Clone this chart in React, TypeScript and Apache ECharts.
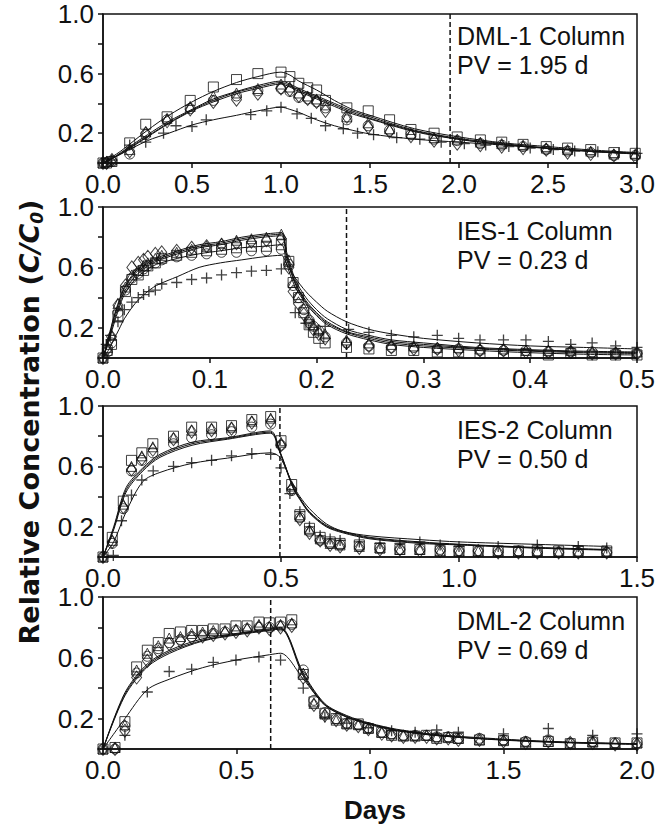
import React, { useEffect, useRef } from "react";
import * as echarts from "echarts";

// ---------- Panel 1: DML-1 Column ----------
const P1_X = [0, 0.02, 0.05, 0.15, 0.24, 0.36, 0.49, 0.62, 0.75, 0.87, 1.0, 1.05, 1.1, 1.15, 1.2, 1.25, 1.37, 1.49, 1.61, 1.73, 1.86, 1.99, 2.12, 2.24, 2.36, 2.49, 2.61, 2.74, 2.87, 2.99];
const P1_SQUARE = [0, 0, 0.01, 0.135, 0.26, 0.31, 0.42, 0.51, 0.56, 0.6, 0.61, 0.58, 0.535, 0.505, 0.49, 0.42, 0.37, 0.35, 0.29, 0.225, 0.2, 0.175, 0.155, 0.14, 0.125, 0.11, 0.1, 0.09, 0.07, 0.065];
const P1_CIRCLE = [0, 0, 0.01, 0.06, 0.19, 0.29, 0.365, 0.42, 0.45, 0.485, 0.5, 0.48, 0.44, 0.43, 0.41, 0.37, 0.29, 0.25, 0.22, 0.19, 0.16, 0.15, 0.13, 0.12, 0.11, 0.09, 0.08, 0.07, 0.05, 0.05];
const P1_DIAMOND = [0, 0, 0.02, 0.08, 0.2, 0.28, 0.36, 0.41, 0.425, 0.465, 0.5, 0.49, 0.45, 0.43, 0.41, 0.35, 0.31, 0.24, 0.21, 0.18, 0.15, 0.13, 0.12, 0.11, 0.1, 0.09, 0.07, 0.06, 0.05, 0.04];
const P1_TRIANGLE = [0, 0.01, 0.02, 0.09, 0.21, 0.3, 0.38, 0.45, 0.47, 0.5, 0.53, 0.51, 0.47, 0.45, 0.43, 0.39, 0.31, 0.27, 0.23, 0.2, 0.17, 0.16, 0.14, 0.13, 0.12, 0.1, 0.09, 0.08, 0.06, 0.06];
const P1_PLUS = [[0, 0], [0.05, 0.02], [0.15, 0.12], [0.24, 0.14], [0.34, 0.2], [0.41, 0.25], [0.5, 0.245], [0.58, 0.29], [0.83, 0.325], [0.92, 0.35], [1.0, 0.375], [1.09, 0.33], [1.17, 0.3], [1.25, 0.25], [1.35, 0.23], [1.43, 0.2], [1.52, 0.19], [1.65, 0.17], [1.78, 0.16], [1.9, 0.14], [2.03, 0.13], [2.15, 0.12], [2.28, 0.11], [2.4, 0.1], [2.53, 0.09], [2.65, 0.08], [2.78, 0.075], [2.9, 0.07], [3.0, 0.065]];
const P1_FIT_X = [0, 0.05, 0.1, 0.25, 0.37, 0.5, 0.62, 0.75, 0.87, 1.0, 1.05, 1.1, 1.2, 1.3, 1.4, 1.5, 1.75, 2.0, 2.25, 2.5, 2.75, 3.0];
const P1_FIT_A = [0, 0.04, 0.08, 0.22, 0.32, 0.41, 0.48, 0.54, 0.58, 0.61, 0.59, 0.55, 0.49, 0.42, 0.36, 0.32, 0.23, 0.175, 0.135, 0.11, 0.087, 0.07];
const P1_FIT_B = [0, 0.03, 0.07, 0.19, 0.28, 0.36, 0.43, 0.48, 0.52, 0.55, 0.53, 0.5, 0.45, 0.4, 0.35, 0.31, 0.22, 0.165, 0.13, 0.1, 0.08, 0.065];
const P1_FIT_C = [0, 0.03, 0.065, 0.18, 0.27, 0.355, 0.42, 0.475, 0.51, 0.54, 0.52, 0.49, 0.44, 0.39, 0.34, 0.3, 0.215, 0.16, 0.125, 0.1, 0.078, 0.062];
const P1_FIT_D = [0, 0.03, 0.06, 0.175, 0.265, 0.35, 0.41, 0.465, 0.5, 0.53, 0.51, 0.48, 0.43, 0.38, 0.33, 0.295, 0.21, 0.158, 0.122, 0.097, 0.076, 0.06];
const P1_FIT_P = [0, 0.03, 0.06, 0.15, 0.2, 0.255, 0.29, 0.32, 0.35, 0.375, 0.36, 0.34, 0.29, 0.25, 0.22, 0.195, 0.16, 0.14, 0.12, 0.1, 0.08, 0.065];
const P1_PV = 1.95;

// ---------- Panel 2: IES-1 Column ----------
const P2_X = [0, 0.004, 0.008, 0.014, 0.021, 0.027, 0.033, 0.038, 0.042, 0.049, 0.055, 0.069, 0.083, 0.097, 0.111, 0.125, 0.139, 0.153, 0.167, 0.174, 0.178, 0.183, 0.188, 0.193, 0.197, 0.202, 0.208, 0.228, 0.249, 0.27, 0.291, 0.313, 0.333, 0.353, 0.375, 0.396, 0.417, 0.438, 0.458, 0.48, 0.5];
const P2_SQUARE = [0, 0.05, 0.09, 0.28, 0.44, 0.52, 0.55, 0.58, 0.61, 0.63, 0.66, 0.68, 0.7, 0.71, 0.72, 0.73, 0.74, 0.74, 0.75, 0.64, 0.5, 0.4, 0.3, 0.22, 0.17, 0.13, 0.1, 0.07, 0.06, 0.05, 0.05, 0.04, 0.04, 0.03, 0.03, 0.03, 0.02, 0.03, 0.02, 0.02, 0.02];
const P2_CIRCLE = [0, 0.04, 0.1, 0.3, 0.45, 0.53, 0.56, 0.59, 0.61, 0.63, 0.65, 0.67, 0.68, 0.69, 0.7, 0.7, 0.71, 0.71, 0.72, 0.62, 0.48, 0.4, 0.32, 0.25, 0.21, 0.18, 0.14, 0.1, 0.08, 0.07, 0.07, 0.06, 0.06, 0.05, 0.05, 0.05, 0.04, 0.04, 0.04, 0.03, 0.03];
const P2_DIAMOND = [0, 0.06, 0.14, 0.35, 0.48, 0.6, 0.63, 0.65, 0.67, 0.69, 0.7, 0.71, 0.73, 0.74, 0.75, 0.76, 0.77, 0.78, 0.79, 0.6, 0.44, 0.36, 0.29, 0.23, 0.19, 0.16, 0.13, 0.1, 0.08, 0.07, 0.06, 0.06, 0.05, 0.05, 0.05, 0.04, 0.04, 0.04, 0.03, 0.03, 0.03];
const P2_TRIANGLE = [0, 0.07, 0.15, 0.36, 0.47, 0.55, 0.58, 0.61, 0.63, 0.66, 0.68, 0.7, 0.72, 0.74, 0.76, 0.78, 0.79, 0.8, 0.82, 0.65, 0.5, 0.42, 0.33, 0.27, 0.22, 0.19, 0.16, 0.12, 0.1, 0.09, 0.08, 0.07, 0.07, 0.06, 0.06, 0.05, 0.05, 0.05, 0.04, 0.04, 0.04];
const P2_PLUS = [[0, 0], [0.003, 0.09], [0.007, 0.15], [0.014, 0.24], [0.02, 0.32], [0.027, 0.37], [0.033, 0.4], [0.038, 0.42], [0.043, 0.44], [0.049, 0.45], [0.055, 0.49], [0.069, 0.5], [0.083, 0.52], [0.097, 0.53], [0.111, 0.55], [0.125, 0.565], [0.139, 0.575], [0.153, 0.58], [0.167, 0.59], [0.18, 0.3], [0.19, 0.23], [0.208, 0.21], [0.23, 0.19], [0.249, 0.17], [0.27, 0.15], [0.291, 0.14], [0.313, 0.15], [0.333, 0.13], [0.353, 0.12], [0.375, 0.12], [0.396, 0.12], [0.417, 0.11], [0.438, 0.09], [0.458, 0.1], [0.48, 0.08], [0.5, 0.07]];
const P2_FIT_X = [0, 0.005, 0.01, 0.015, 0.02, 0.03, 0.04, 0.05, 0.07, 0.09, 0.11, 0.13, 0.15, 0.167, 0.172, 0.18, 0.19, 0.2, 0.21, 0.228, 0.249, 0.27, 0.3, 0.35, 0.4, 0.45, 0.5];
const P2_FIT_A = [0, 0.13, 0.27, 0.38, 0.47, 0.57, 0.62, 0.66, 0.71, 0.75, 0.77, 0.8, 0.82, 0.83, 0.7, 0.52, 0.4, 0.32, 0.26, 0.19, 0.15, 0.12, 0.1, 0.07, 0.055, 0.045, 0.04];
const P2_FIT_B = [0, 0.12, 0.26, 0.37, 0.46, 0.56, 0.61, 0.65, 0.7, 0.74, 0.76, 0.79, 0.81, 0.82, 0.68, 0.5, 0.38, 0.3, 0.24, 0.175, 0.14, 0.11, 0.09, 0.065, 0.05, 0.04, 0.035];
const P2_FIT_C = [0, 0.11, 0.24, 0.35, 0.44, 0.54, 0.6, 0.64, 0.69, 0.73, 0.75, 0.78, 0.8, 0.81, 0.66, 0.49, 0.37, 0.29, 0.23, 0.17, 0.13, 0.1, 0.08, 0.06, 0.045, 0.035, 0.03];
const P2_FIT_D = [0, 0.1, 0.22, 0.33, 0.42, 0.52, 0.58, 0.62, 0.66, 0.69, 0.71, 0.73, 0.74, 0.75, 0.62, 0.47, 0.36, 0.28, 0.22, 0.16, 0.12, 0.09, 0.07, 0.05, 0.035, 0.025, 0.02];
const P2_FIT_P = [0, 0.05, 0.12, 0.19, 0.26, 0.36, 0.43, 0.48, 0.54, 0.6, 0.63, 0.65, 0.67, 0.68, 0.62, 0.53, 0.44, 0.37, 0.31, 0.24, 0.19, 0.16, 0.13, 0.1, 0.08, 0.07, 0.06];
const P2_PV = 0.228;

// ---------- Panel 3: IES-2 Column ----------
const P3_X = [0, 0.026, 0.057, 0.08, 0.109, 0.14, 0.198, 0.249, 0.305, 0.361, 0.418, 0.471, 0.5, 0.53, 0.553, 0.58, 0.61, 0.638, 0.666, 0.72, 0.778, 0.834, 0.89, 0.947, 1.0, 1.054, 1.11, 1.167, 1.22, 1.28, 1.335, 1.415];
const P3_SQUARE = [0, 0.13, 0.37, 0.64, 0.69, 0.75, 0.8, 0.86, 0.86, 0.87, 0.91, 0.93, 0.77, 0.48, 0.28, 0.19, 0.13, 0.1, 0.09, 0.08, 0.06, 0.05, 0.05, 0.04, 0.04, 0.04, 0.04, 0.04, 0.04, 0.04, 0.04, 0.04];
const P3_CIRCLE = [0, 0.09, 0.32, 0.57, 0.64, 0.69, 0.75, 0.79, 0.81, 0.83, 0.86, 0.88, 0.74, 0.44, 0.26, 0.17, 0.11, 0.09, 0.08, 0.07, 0.06, 0.05, 0.05, 0.05, 0.04, 0.04, 0.04, 0.04, 0.03, 0.03, 0.03, 0.03];
const P3_DIAMOND = [0, 0.1, 0.33, 0.58, 0.65, 0.71, 0.78, 0.83, 0.84, 0.85, 0.89, 0.9, 0.74, 0.45, 0.25, 0.16, 0.11, 0.08, 0.07, 0.06, 0.05, 0.05, 0.04, 0.04, 0.04, 0.04, 0.03, 0.03, 0.03, 0.03, 0.03, 0.03];
const P3_TRIANGLE = [0, 0.11, 0.35, 0.6, 0.67, 0.73, 0.79, 0.84, 0.85, 0.86, 0.9, 0.92, 0.76, 0.47, 0.27, 0.18, 0.12, 0.09, 0.08, 0.07, 0.06, 0.05, 0.05, 0.04, 0.04, 0.04, 0.04, 0.04, 0.04, 0.03, 0.03, 0.03];
const P3_PLUS = [[0, 0], [0.029, 0.01], [0.052, 0.24], [0.08, 0.41], [0.109, 0.51], [0.141, 0.57], [0.198, 0.6], [0.249, 0.625], [0.305, 0.64], [0.361, 0.67], [0.418, 0.685], [0.471, 0.68], [0.5, 0.59], [0.525, 0.42], [0.553, 0.3], [0.58, 0.2], [0.61, 0.14], [0.638, 0.12], [0.666, 0.11], [0.72, 0.1], [0.778, 0.09], [0.834, 0.09], [0.89, 0.1], [0.947, 0.08], [1.0, 0.07], [1.11, 0.07], [1.22, 0.08], [1.335, 0.07], [1.415, 0.06]];
const P3_FIT_X = [0, 0.03, 0.065, 0.112, 0.16, 0.25, 0.35, 0.47, 0.497, 0.535, 0.553, 0.58, 0.627, 0.674, 0.75, 0.89, 1.0, 1.2, 1.415];
const P3_FIT_A = [0, 0.2, 0.46, 0.59, 0.68, 0.76, 0.79, 0.835, 0.7, 0.46, 0.39, 0.3, 0.21, 0.17, 0.13, 0.1, 0.085, 0.065, 0.05];
const P3_FIT_B = [0, 0.18, 0.43, 0.57, 0.66, 0.74, 0.78, 0.82, 0.69, 0.45, 0.38, 0.29, 0.2, 0.16, 0.12, 0.09, 0.08, 0.06, 0.045];
const P3_FIT_C = [0, 0.19, 0.445, 0.58, 0.67, 0.75, 0.785, 0.827, 0.695, 0.455, 0.385, 0.295, 0.205, 0.165, 0.125, 0.095, 0.082, 0.062, 0.048];
const P3_FIT_P = [0, 0.1, 0.3, 0.5, 0.56, 0.62, 0.655, 0.69, 0.66, 0.47, 0.4, 0.32, 0.22, 0.17, 0.14, 0.115, 0.1, 0.085, 0.07];
const P3_PV = 0.497;

// ---------- Panel 4: DML-2 Column ----------
const P4_X = [0, 0.045, 0.082, 0.126, 0.166, 0.207, 0.248, 0.29, 0.332, 0.373, 0.413, 0.457, 0.498, 0.54, 0.584, 0.623, 0.665, 0.707, 0.75, 0.79, 0.831, 0.873, 0.913, 0.956, 0.994, 1.044, 1.081, 1.125, 1.169, 1.212, 1.25, 1.293, 1.331, 1.41, 1.5, 1.583, 1.668, 1.75, 1.834, 1.918, 2.0];
const P4_SQUARE = [0, 0.01, 0.18, 0.54, 0.65, 0.7, 0.76, 0.77, 0.78, 0.78, 0.79, 0.79, 0.81, 0.81, 0.835, 0.83, 0.835, 0.85, 0.49, 0.31, 0.235, 0.2, 0.165, 0.165, 0.135, 0.11, 0.09, 0.085, 0.085, 0.09, 0.07, 0.075, 0.07, 0.06, 0.055, 0.04, 0.05, 0.035, 0.045, 0.04, 0.04];
const P4_CIRCLE = [0, 0, 0.15, 0.5, 0.61, 0.66, 0.7, 0.72, 0.74, 0.75, 0.76, 0.77, 0.78, 0.79, 0.8, 0.8, 0.81, 0.82, 0.52, 0.32, 0.24, 0.2, 0.17, 0.16, 0.14, 0.11, 0.1, 0.09, 0.09, 0.09, 0.08, 0.08, 0.07, 0.07, 0.06, 0.05, 0.06, 0.04, 0.05, 0.04, 0.04];
const P4_DIAMOND = [0, 0, 0.12, 0.47, 0.58, 0.64, 0.69, 0.71, 0.73, 0.74, 0.75, 0.76, 0.77, 0.78, 0.8, 0.79, 0.8, 0.81, 0.47, 0.29, 0.22, 0.19, 0.16, 0.15, 0.13, 0.1, 0.09, 0.08, 0.08, 0.08, 0.07, 0.07, 0.06, 0.06, 0.05, 0.04, 0.05, 0.04, 0.04, 0.03, 0.03];
const P4_TRIANGLE = [0, 0.01, 0.16, 0.52, 0.63, 0.68, 0.73, 0.74, 0.76, 0.77, 0.78, 0.78, 0.79, 0.8, 0.82, 0.81, 0.82, 0.83, 0.5, 0.3, 0.23, 0.19, 0.17, 0.16, 0.14, 0.11, 0.1, 0.09, 0.09, 0.09, 0.08, 0.08, 0.07, 0.06, 0.06, 0.05, 0.05, 0.04, 0.05, 0.04, 0.04];
const P4_PLUS = [[0, 0], [0.082, 0.09], [0.166, 0.375], [0.248, 0.51], [0.332, 0.525], [0.413, 0.57], [0.498, 0.585], [0.584, 0.605], [0.665, 0.585], [0.75, 0.4], [0.831, 0.21], [0.913, 0.17], [0.994, 0.14], [1.081, 0.12], [1.169, 0.11], [1.25, 0.125], [1.331, 0.11], [1.5, 0.1], [1.668, 0.135], [1.834, 0.09], [2.0, 0.1]];
const P4_FIT_X = [0, 0.082, 0.166, 0.25, 0.373, 0.498, 0.623, 0.665, 0.75, 0.83, 0.913, 1.0, 1.1, 1.25, 1.5, 1.75, 2.0];
const P4_FIT_A = [0, 0.37, 0.56, 0.65, 0.725, 0.76, 0.79, 0.8, 0.5, 0.3, 0.22, 0.17, 0.13, 0.095, 0.065, 0.045, 0.035];
const P4_FIT_B = [0, 0.36, 0.55, 0.64, 0.715, 0.755, 0.785, 0.795, 0.49, 0.295, 0.215, 0.165, 0.125, 0.09, 0.06, 0.043, 0.033];
const P4_FIT_C = [0, 0.35, 0.54, 0.63, 0.71, 0.75, 0.78, 0.79, 0.48, 0.29, 0.21, 0.16, 0.12, 0.088, 0.058, 0.04, 0.03];
const P4_FIT_P = [0, 0.2, 0.39, 0.46, 0.535, 0.585, 0.62, 0.63, 0.46, 0.29, 0.21, 0.165, 0.125, 0.09, 0.06, 0.043, 0.033];
const P4_PV = 0.628;

// ---------- Axes / labels ----------
const X_MAX = [3, 0.5, 1.5, 2];
const X_INTERVAL = [0.5, 0.1, 0.5, 0.5];
const Y_LABELS = ["0.2", "0.6", "1.0"];
const PANEL_TITLES = ["DML-1 Column", "IES-1 Column", "IES-2 Column", "DML-2 Column"];
const PANEL_PV = ["PV = 1.95 d", "PV = 0.23 d", "PV = 0.50 d", "PV = 0.69 d"];

const FONT = '"Liberation Sans", Arial, Helvetica, sans-serif';
const TITLE_FONT = '"DejaVu Sans", "Liberation Sans", sans-serif';
const INK = "#111";
const PLUS_PATH = "path://M4.4,0 H5.6 V4.4 H10 V5.6 H5.6 V10 H4.4 V5.6 H0 V4.4 H4.4 Z";

const GRID_TOPS = [14, 207, 406, 597];
const GRID_HEIGHTS = [149, 151, 151, 152];
const TEXT_TOPS = [21, 216, 415, 606];

type Panel = {
  x: number[];
  square: number[];
  circle: number[];
  diamond: number[];
  triangle: number[];
  plus: number[][];
  fitX: number[];
  fits: number[][];
  pv: number;
};

const PANELS: Panel[] = [
  { x: P1_X, square: P1_SQUARE, circle: P1_CIRCLE, diamond: P1_DIAMOND, triangle: P1_TRIANGLE, plus: P1_PLUS, fitX: P1_FIT_X, fits: [P1_FIT_A, P1_FIT_B, P1_FIT_C, P1_FIT_D, P1_FIT_P], pv: P1_PV },
  { x: P2_X, square: P2_SQUARE, circle: P2_CIRCLE, diamond: P2_DIAMOND, triangle: P2_TRIANGLE, plus: P2_PLUS, fitX: P2_FIT_X, fits: [P2_FIT_A, P2_FIT_B, P2_FIT_C, P2_FIT_D, P2_FIT_P], pv: P2_PV },
  { x: P3_X, square: P3_SQUARE, circle: P3_CIRCLE, diamond: P3_DIAMOND, triangle: P3_TRIANGLE, plus: P3_PLUS, fitX: P3_FIT_X, fits: [P3_FIT_A, P3_FIT_B, P3_FIT_C, P3_FIT_P], pv: P3_PV },
  { x: P4_X, square: P4_SQUARE, circle: P4_CIRCLE, diamond: P4_DIAMOND, triangle: P4_TRIANGLE, plus: P4_PLUS, fitX: P4_FIT_X, fits: [P4_FIT_A, P4_FIT_B, P4_FIT_C, P4_FIT_P], pv: P4_PV },
];

const zip = (xs: number[], ys: number[]) => xs.map((x, i) => [x, ys[i]]);

function buildOption() {
  const grid = GRID_TOPS.map((top, i) => ({
    left: 103,
    top,
    width: 534,
    height: GRID_HEIGHTS[i],
    show: true,
    borderColor: INK,
    borderWidth: 1.5,
    backgroundColor: "transparent",
  }));

  const xAxis = X_MAX.map((max, i) => ({
    type: "value",
    gridIndex: i,
    min: 0,
    max,
    interval: X_INTERVAL[i],
    axisLine: { show: true, onZero: false, lineStyle: { color: INK, width: 1.5 } },
    axisTick: { show: true, inside: false, length: 5, lineStyle: { color: INK, width: 1.5 } },
    axisLabel: {
      show: true,
      margin: 8,
      fontSize: 26,
      fontFamily: FONT,
      color: INK,
      showMinLabel: true,
      showMaxLabel: true,
      formatter: (v: number) => v.toFixed(1),
    },
    splitLine: { show: false },
  }));

  const yAxis = X_MAX.map((_, i) => ({
    type: "value",
    gridIndex: i,
    min: 0,
    max: 1,
    interval: 0.2,
    axisLine: { show: true, onZero: false, lineStyle: { color: INK, width: 1.5 } },
    axisTick: { show: true, inside: false, length: 5, lineStyle: { color: INK, width: 1.5 } },
    axisLabel: {
      show: true,
      margin: 9,
      fontSize: 26,
      lineHeight: 22,
      fontFamily: FONT,
      color: INK,
      showMinLabel: true,
      showMaxLabel: true,
      formatter: (v: number) => {
        const s = v.toFixed(1);
        return Y_LABELS.indexOf(s) >= 0 ? s : "";
      },
    },
    splitLine: { show: false },
  }));

  const series: any[] = [];
  PANELS.forEach((p, i) => {
    const hollow = { color: "rgba(255,255,255,0)", borderColor: INK, borderWidth: 1 };
    const markers: [number[], string, any][] = [
      [p.square, "rect", 10],
      [p.circle, "circle", 10],
      [p.diamond, "diamond", [10, 13]],
      [p.triangle, "triangle", 10],
    ];
    markers.forEach(([ys, symbol, size]) => {
      series.push({
        type: "scatter",
        xAxisIndex: i,
        yAxisIndex: i,
        data: zip(p.x, ys),
        symbol,
        symbolSize: size,
        itemStyle: hollow,
        silent: true,
        z: 3,
      });
    });
    series.push({
      type: "scatter",
      xAxisIndex: i,
      yAxisIndex: i,
      data: p.plus,
      symbol: PLUS_PATH,
      symbolSize: 11,
      itemStyle: { color: INK, borderWidth: 0 },
      silent: true,
      z: 3,
    });
    p.fits.forEach((fy) => {
      series.push({
        type: "line",
        xAxisIndex: i,
        yAxisIndex: i,
        data: zip(p.fitX, fy),
        showSymbol: false,
        symbol: "none",
        smooth: 0.3,
        lineStyle: { color: INK, width: 1 },
        silent: true,
        z: 4,
      });
    });
    series.push({
      type: "line",
      xAxisIndex: i,
      yAxisIndex: i,
      data: [[p.pv, 0], [p.pv, 1]],
      showSymbol: false,
      symbol: "none",
      lineStyle: { color: INK, width: 1.5, type: [5, 3] },
      silent: true,
      z: 5,
    });
  });

  const graphic: any[] = [];
  TEXT_TOPS.forEach((top, i) => {
    graphic.push({
      type: "text",
      x: 457,
      y: top,
      style: {
        text: PANEL_TITLES[i] + "\n" + PANEL_PV[i],
        fontSize: 25,
        fontFamily: FONT,
        fill: INK,
        lineHeight: 29,
        align: "left",
        verticalAlign: "top",
      },
      silent: true,
    });
  });
  graphic.push({
    type: "text",
    x: 29,
    y: 422,
    rotation: Math.PI / 2,
    style: {
      text: "{n|Relative Concentration (}{i|C/C}{s|0}{n|)}",
      align: "center",
      verticalAlign: "middle",
      fill: INK,
      rich: {
        n: { fontSize: 27, fontWeight: "bold", fontFamily: TITLE_FONT, fill: INK, color: INK, lineHeight: 32 },
        i: { fontSize: 27, fontWeight: "bold", fontStyle: "italic", fontFamily: TITLE_FONT, fill: INK, color: INK, lineHeight: 32 },
        s: { fontSize: 17, fontWeight: "bold", fontStyle: "italic", fontFamily: TITLE_FONT, fill: INK, color: INK, verticalAlign: "bottom" },
      },
    },
    silent: true,
  });
  graphic.push({
    type: "text",
    x: 375,
    y: 810,
    style: {
      text: "Days",
      fontSize: 26,
      fontWeight: "bold",
      fontFamily: FONT,
      fill: INK,
      align: "center",
      verticalAlign: "middle",
    },
    silent: true,
  });

  return {
    animation: false,
    backgroundColor: "#fff",
    grid,
    xAxis,
    yAxis,
    series,
    graphic,
  };
}

export default function App() {
  const ref = useRef<HTMLDivElement>(null);
  useEffect(() => {
    if (!ref.current) return;
    const chart = echarts.init(ref.current, undefined, { renderer: "svg" });
    chart.setOption(buildOption() as any);
    return () => chart.dispose();
  }, []);
  return (
    <div
      ref={ref}
      style={{ position: "absolute", left: 0, top: 0, width: 665, height: 826, background: "#fff" }}
    />
  );
}
